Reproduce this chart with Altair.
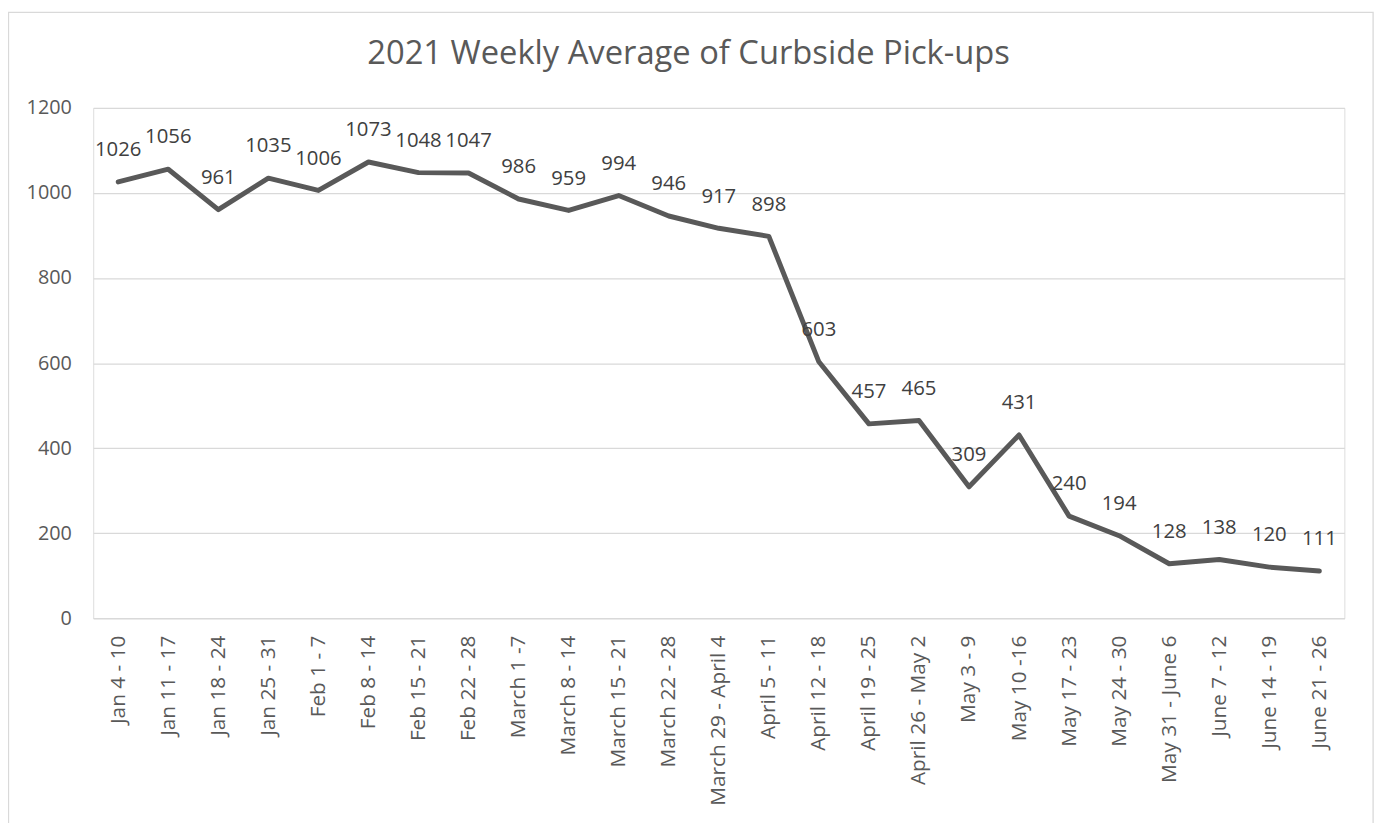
import altair as alt
import pandas as pd

weeks = [
    "Jan 4 - 10", "Jan 11 - 17", "Jan 18 - 24", "Jan 25 - 31", "Feb 1 - 7",
    "Feb 8 - 14", "Feb 15 - 21", "Feb 22 - 28", "March 1 -7", "March 8 - 14",
    "March 15 - 21", "March 22 - 28", "March 29 - April 4", "April 5 - 11",
    "April 12 - 18", "April 19 - 25", "April 26 - May 2", "May 3 - 9",
    "May 10 -16", "May 17 - 23", "May 24 - 30", "May 31 - June 6",
    "June  7 - 12", "June 14 - 19", "June 21 - 26",
]
pickups = [1026, 1056, 961, 1035, 1006, 1073, 1048, 1047, 986, 959, 994, 946,
           917, 898, 603, 457, 465, 309, 431, 240, 194, 128, 138, 120, 111]
title_text = "2021 Weekly Average of Curbside Pick-ups"

df = pd.DataFrame({"week": weeks, "pickups": pickups})

FONT = "Open Sans"
TXT = "#595959"
GRID = "#d9d9d9"

xscale = alt.Scale(type="point", padding=0.5)
x = alt.X(
    "week:N", sort=None, title=None, scale=xscale,
    axis=alt.Axis(labelAngle=-90, ticks=False, domain=True, domainColor=GRID,
                  domainWidth=1.3, labelPadding=17, labelFontSize=21,
                  labelFont=FONT, labelColor=TXT, grid=False, labelLimit=300),
)
y = alt.Y(
    "pickups:Q", title=None,
    scale=alt.Scale(domain=[0, 1200], nice=False, zero=True),
    axis=alt.Axis(values=[0, 200, 400, 600, 800, 1000, 1200], format="d",
                  ticks=False, domain=False, labelPadding=22, labelFontSize=20,
                  labelFont=FONT, labelColor=TXT, gridColor=GRID, gridWidth=1.3),
)

border = alt.Chart(pd.DataFrame({"k": [0]})).mark_rect(
    fill=None, stroke=GRID, strokeWidth=1.3
).encode(
    x=alt.value(-85.5), x2=alt.value(1292), y=alt.value(-96.5), y2=alt.value(800)
)

title = alt.Chart(pd.DataFrame({"t": [title_text]})).mark_text(
    font=FONT, fontSize=33, color=TXT, align="center", baseline="alphabetic"
).encode(x=alt.value(601), y=alt.value(-44), text="t:N")

line = alt.Chart(df).mark_line(
    color=TXT, strokeWidth=5, strokeJoin="round", strokeCap="round"
).encode(x=x, y=y)

labels = alt.Chart(df).mark_text(
    font=FONT, fontSize=20.5, color="#404040", baseline="middle", align="center", dy=-32
).encode(x=alt.X("week:N", sort=None, scale=xscale),
         y=alt.Y("pickups:Q"), text="pickups:Q")

chart = alt.layer(border, title, line, labels).properties(
    width=1263, height=515,
    padding={"left": 86, "top": 97, "right": 40, "bottom": 220},
    autosize=alt.AutoSizeParams(type="none"),
).configure_view(stroke=None).configure(background="white")

chart.save("out.html", embed_options={"renderer": "svg", "actions": False})
